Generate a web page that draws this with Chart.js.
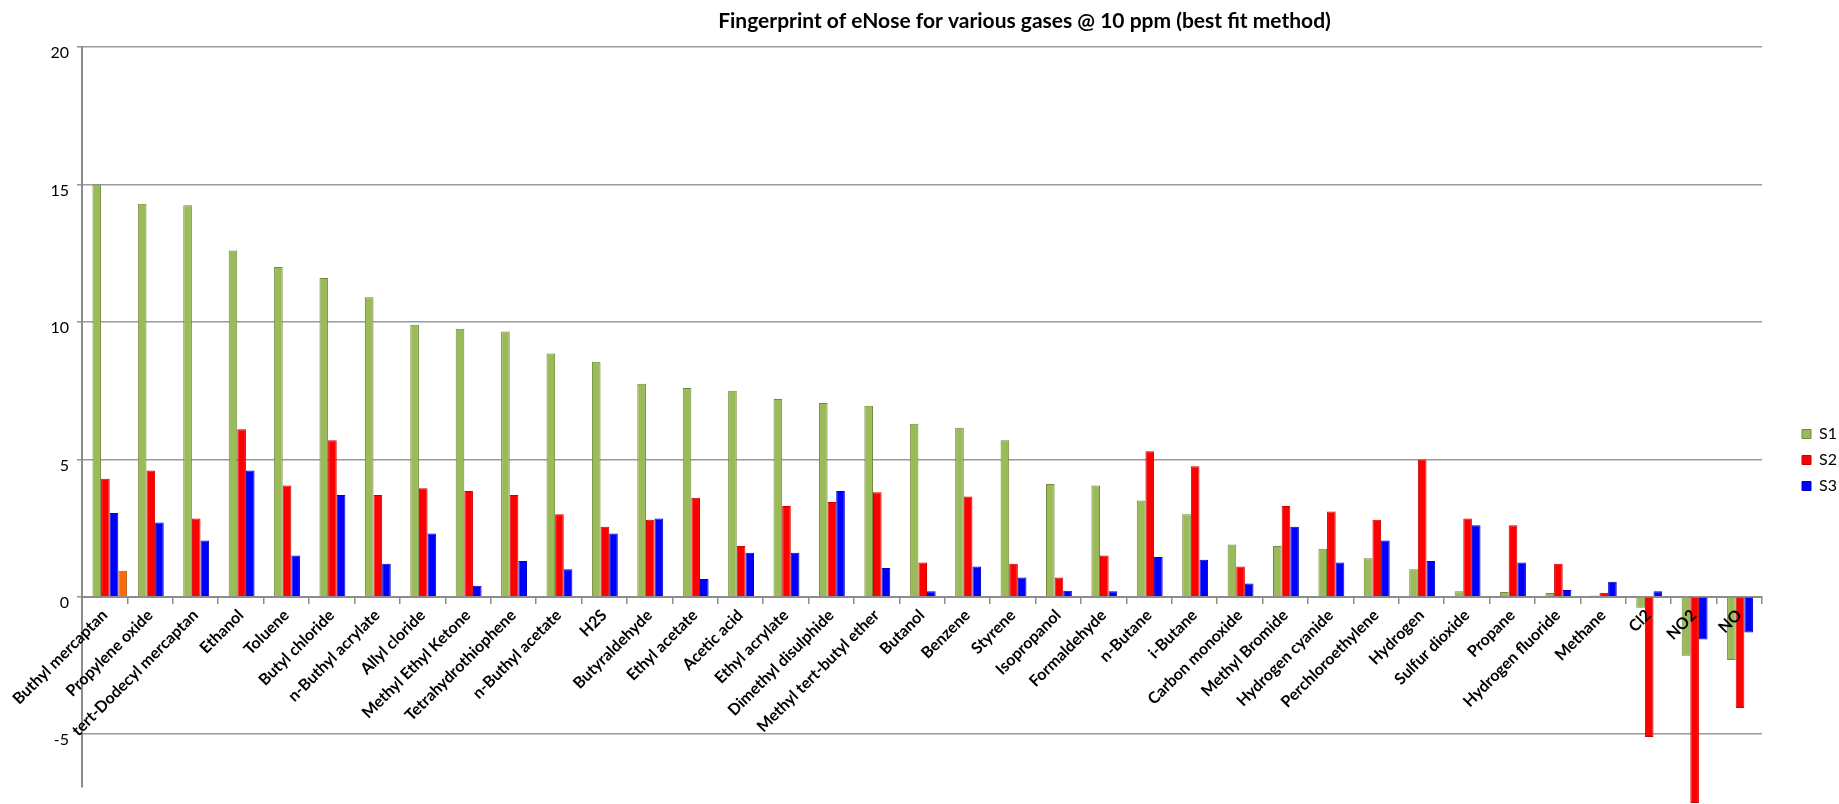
<!DOCTYPE html>
<html>
<head>
<meta charset="utf-8">
<script src="https://cdn.jsdelivr.net/npm/chart.js@4.4.1/dist/chart.umd.min.js"></script>
<style>
  html, body { margin: 0; padding: 0; background: #fff; }
  #wrap { width: 1839px; height: 804px; position: relative; }
</style>
</head>
<body>
<div id="wrap"><canvas id="enoseChart"></canvas></div>
<script>
const gases = [
    'Buthyl mercaptan', 'Propylene oxide', 'tert-Dodecyl mercaptan', 'Ethanol', 'Toluene',
    'Butyl chloride', 'n-Buthyl acrylate', 'Allyl cloride', 'Methyl Ethyl Ketone', 'Tetrahydrothiophene',
    'n-Buthyl acetate', 'H2S', 'Butyraldehyde', 'Ethyl acetate', 'Acetic acid',
    'Ethyl acrylate', 'Dimethyl disulphide', 'Methyl tert-butyl ether', 'Butanol', 'Benzene',
    'Styrene', 'Isopropanol', 'Formaldehyde', 'n-Butane', 'i-Butane',
    'Carbon monoxide', 'Methyl Bromide', 'Hydrogen cyanide', 'Perchloroethylene', 'Hydrogen',
    'Sulfur dioxide', 'Propane', 'Hydrogen fluoride', 'Methane', 'Cl2',
    'NO2', 'NO'
];

const s1 = [15.0, 14.3, 14.25, 12.6, 12.0, 11.6, 10.9, 9.9, 9.75, 9.65,
            8.85, 8.55, 7.75, 7.6, 7.5, 7.2, 7.05, 6.95, 6.3, 6.15,
            5.7, 4.1, 4.05, 3.5, 3.0, 1.9, 1.85, 1.75, 1.4, 1.0,
            0.2, 0.17, 0.14, 0.05, -0.4, -2.15, -2.3];
const s2 = [4.3, 4.6, 2.85, 6.1, 4.05, 5.7, 3.7, 3.95, 3.85, 3.7,
            3.0, 2.55, 2.8, 3.6, 1.85, 3.3, 3.45, 3.8, 1.25, 3.65,
            1.2, 0.7, 1.5, 5.3, 4.75, 1.1, 3.3, 3.1, 2.8, 5.0,
            2.85, 2.6, 1.2, 0.15, -5.1, -7.5, -4.05];
const s3 = [3.05, 2.7, 2.05, 4.6, 1.5, 3.7, 1.2, 2.3, 0.4, 1.3,
            1.0, 2.3, 2.85, 0.65, 1.6, 1.6, 3.85, 1.05, 0.2, 1.1,
            0.7, 0.22, 0.2, 1.45, 1.35, 0.48, 2.55, 1.25, 2.05, 1.3,
            2.6, 1.25, 0.25, 0.55, 0.2, -1.55, -1.3];
// one stray point in a fourth column (orange), not in the legend
const s4 = [0.95, null, null, null, null, null, null, null, null, null,
            null, null, null, null, null, null, null, null, null, null,
            null, null, null, null, null, null, null, null, null, null,
            null, null, null, null, null, null, null];

const yTicks = [-5, 0, 5, 10, 15, 20];

const FONT = "Lato, 'Open Sans', sans-serif";

// Excel put the title off-centre and the legend lower down; nudge both
const boxNudge = {
    id: 'boxNudge',
    afterLayout(chart) {
        const t = chart.titleBlock;
        t.left += 116; t.right += 116;

        const lg = chart.legend;
        const dx = 1802 - (lg.left + 10);
        const dy = 58;
        lg.left += dx; lg.right += dx;
        lg.top += dy; lg.bottom += dy;
    },
    // 3D depth: the columns sit a little to the right of the tick marks
    beforeDatasetsDraw(chart) {
        chart.ctx.save();
        chart.ctx.translate(5, 0);
    },
    afterDatasetsDraw(chart) {
        chart.ctx.restore();
    }
};

function createChart() {
    const ctx = document.getElementById('enoseChart').getContext('2d');

    new Chart(ctx, {
        type: 'bar',
        data: {
            labels: gases,
            datasets: [
                {
                    label: 'S1',
                    data: s1,
                    backgroundColor: '#9bbb59',
                    borderColor: '#71893f',
                    borderWidth: 1,
                    clip: false
                },
                {
                    label: 'S2',
                    data: s2,
                    backgroundColor: '#ff0000',
                    borderColor: '#d00000',
                    borderWidth: 1,
                    clip: false
                },
                {
                    label: 'S3',
                    data: s3,
                    backgroundColor: '#0000ff',
                    borderColor: '#0000c8',
                    borderWidth: 1,
                    clip: false
                },
                {
                    label: 'S4',
                    data: s4,
                    backgroundColor: '#f26c0d',
                    borderColor: '#c0560a',
                    borderWidth: 1,
                    clip: false
                }
            ]
        },
        options: {
            responsive: true,
            maintainAspectRatio: false,
            animation: false,
            categoryPercentage: 0.76,
            barPercentage: 1.0,
            layout: {
                padding: { left: 0, right: 22, top: 0, bottom: 0 }
            },
            plugins: {
                title: {
                    display: true,
                    text: 'Fingerprint of eNose for various gases @ 10 ppm (best fit method)',
                    color: '#000',
                    font: { family: FONT, size: 21, weight: 'bold' },
                    padding: { top: 9, bottom: 13 }
                },
                legend: {
                    position: 'right',
                    labels: {
                        boxWidth: 9,
                        boxHeight: 9,
                        padding: 10,
                        color: '#000',
                        font: { family: FONT, size: 16 },
                        filter: item => item.datasetIndex < 3
                    }
                },
                tooltip: { enabled: false }
            },
            scales: {
                x: {
                    position: { y: 0 },
                    grid: {
                        offset: true,
                        drawOnChartArea: false,
                        drawTicks: true,
                        tickLength: 6,
                        color: '#8c8c8c',
                        lineWidth: 1.5
                    },
                    border: { display: true, color: '#8c8c8c', width: 2 },
                    ticks: {
                        z: 1,   // names stay readable on top of the negative columns
                        autoSkip: false,
                        minRotation: 45,
                        maxRotation: 45,
                        padding: 3,
                        color: '#000',
                        font: { family: FONT, size: 16, weight: 'bold' }
                    }
                },
                y: {
                    min: -6.9,
                    max: 20,
                    afterBuildTicks: axis => {
                        axis.ticks = yTicks.map(v => ({ value: v }));
                    },
                    afterFit: axis => { axis.width = 82; },
                    grid: {
                        color: '#9a9a9a',
                        lineWidth: 1.6,
                        tickLength: 5
                    },
                    border: { display: true, color: '#8c8c8c', width: 2 },
                    ticks: {
                        padding: 8,
                        labelOffset: 6,
                        color: '#000',
                        font: { family: FONT, size: 16 }
                    }
                }
            }
        },
        plugins: [boxNudge]
    });
}

window.addEventListener('load', createChart);
</script>
</body>
</html>
